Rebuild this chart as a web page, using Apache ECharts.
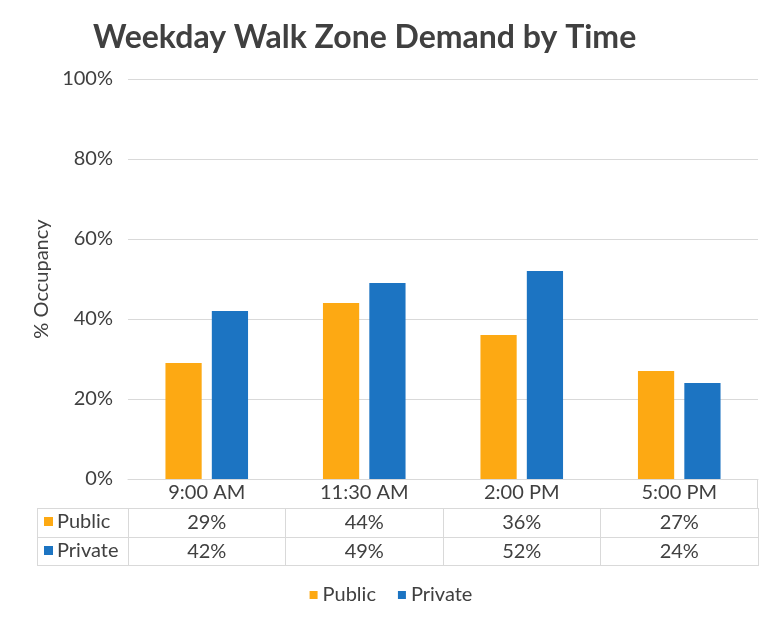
<!DOCTYPE html>
<html>
<head>
<meta charset="utf-8">
<script src="https://cdn.jsdelivr.net/npm/echarts@6/dist/echarts.min.js"></script>
<style>html,body{margin:0;padding:0;background:#fff}#c{width:782px;height:625px}</style>
</head>
<body>
<div id="c"></div>
<script>
const categories = ['9:00 AM', '11:30 AM', '2:00 PM', '5:00 PM'];
const seriesNames = ['Public', 'Private'];
const publicVals = [29, 44, 36, 27];
const privateVals = [42, 49, 52, 24];
const colors = ['#FDA913', '#1C74C2'];

const FONT = 'Lato';
const FS = 20;
const TXT = '#404040';
const LINE = '#D9D9D9';
const pct = v => v + '%';

const chart = echarts.init(document.getElementById('c'), null, {renderer: 'canvas'});

function rowAxis(data, offset, showLabels) {
  return {
    type: 'category', data: data, gridIndex: 0, position: 'bottom', offset: offset,
    axisLine: {show: true, lineStyle: {color: LINE, width: 1}},
    axisTick: {show: true, length: showLabels ? 29 : 0, lineStyle: {color: LINE}},
    axisLabel: {show: showLabels, color: TXT, fontSize: FS, fontFamily: FONT, margin: 5},
    splitLine: {show: false}
  };
}

const option = {
  backgroundColor: '#fff',
  animation: false,
  title: {
    text: 'Weekday Walk Zone Demand by Time',
    left: 88, top: 17,
    textStyle: {fontFamily: FONT, fontSize: 32, fontWeight: 'bold', color: '#404040'}
  },
  legend: {
    data: seriesNames, left: 'center', top: 580,
    icon: 'rect', itemWidth: 8, itemHeight: 8, itemGap: 22,
    textStyle: {fontFamily: FONT, fontSize: FS, color: TXT}
  },
  grid: {left: 128, right: 24, top: 79, bottom: 146, containLabel: false},
  xAxis: [
    {
      type: 'category', data: categories,
      axisLine: {show: true, lineStyle: {color: LINE}},
      axisTick: {show: false},
      axisLabel: {color: TXT, fontSize: FS, fontFamily: FONT, margin: 4}
    },
    rowAxis(publicVals.map(pct), 29, true),
    rowAxis(privateVals.map(pct), 58, true),
    rowAxis(categories.map(() => ''), 86, false)
  ],
  yAxis: {
    type: 'value', min: 0, max: 100, interval: 20,
    name: '% Occupancy', nameLocation: 'middle', nameGap: 76, nameRotate: 90,
    nameTextStyle: {fontFamily: FONT, fontSize: FS, color: TXT},
    axisLine: {show: false}, axisTick: {show: false},
    axisLabel: {formatter: '{value}%', color: TXT, fontSize: FS, fontFamily: FONT, margin: 15},
    splitLine: {lineStyle: {color: LINE, width: 1}}
  },
  series: [
    {name: seriesNames[0], type: 'bar', data: publicVals, barWidth: '23%', barGap: '28%', itemStyle: {color: colors[0]}},
    {name: seriesNames[1], type: 'bar', data: privateVals, barWidth: '23%', barGap: '28%', itemStyle: {color: colors[1]}}
  ],
  graphic: [
    {type: 'line', shape: {x1: 37, y1: 508.5, x2: 128, y2: 508.5}, style: {stroke: LINE, lineWidth: 1}},
    {type: 'line', shape: {x1: 37, y1: 537.5, x2: 128, y2: 537.5}, style: {stroke: LINE, lineWidth: 1}},
    {type: 'line', shape: {x1: 37, y1: 565.5, x2: 128, y2: 565.5}, style: {stroke: LINE, lineWidth: 1}},
    {type: 'line', shape: {x1: 37.5, y1: 508, x2: 37.5, y2: 566}, style: {stroke: LINE, lineWidth: 1}},
    {type: 'line', shape: {x1: 757.5, y1: 479, x2: 757.5, y2: 508}, style: {stroke: LINE, lineWidth: 1}},
    {type: 'rect', shape: {x: 44, y: 517, width: 9, height: 9}, style: {fill: colors[0]}},
    {type: 'text', x: 57, y: 522, style: {text: seriesNames[0], fill: TXT, font: FS + 'px ' + FONT, verticalAlign: 'middle'}},
    {type: 'rect', shape: {x: 44, y: 546, width: 9, height: 9}, style: {fill: colors[1]}},
    {type: 'text', x: 57, y: 551, style: {text: seriesNames[1], fill: TXT, font: FS + 'px ' + FONT, verticalAlign: 'middle'}}
  ]
};
chart.setOption(option);
</script>
</body>
</html>
